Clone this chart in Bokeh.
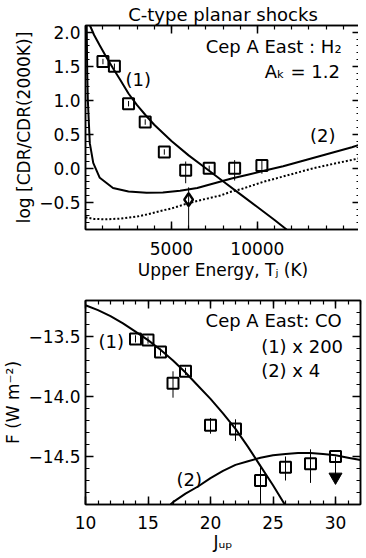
from bokeh.plotting import figure
from bokeh.models import Range1d, LinearAxis, FixedTicker, Label, CustomJSTickFormatter
from bokeh.layouts import column
from bokeh.embed import file_html
from bokeh.resources import INLINE

FONT = "DejaVu Sans"
FS = "17px"
FS_TXT = "18px"

# ---------------- top panel: H2 ----------------
h2_eup = [1015, 1682, 2504, 3474, 4586, 5829, 7197, 8677, 10263]
h2_logcdr = [1.57, 1.50, 0.95, 0.68, 0.24, -0.03, 0.00, 0.00, 0.04]
h2_err_lo = [1.53, 1.46, 0.91, 0.64, 0.20, -0.22, -0.04, -0.18, -0.08]
h2_err_hi = [1.61, 1.54, 0.99, 0.72, 0.28, 0.10, 0.04, 0.12, 0.12]

v1_eup = [6000]
v1_logcdr = [-0.46]
v1_err_lo = [-1.2]
v1_err_hi = [-0.28]

model1_eup = [260, 500, 800, 1200, 1600, 2000, 2500, 3000, 3500, 4000, 5000, 6000,
              7000, 8000, 9000, 10000, 11000, 11700]
model1_logcdr = [2.10, 1.96, 1.82, 1.64, 1.47, 1.31, 1.10, 0.93, 0.78, 0.64, 0.40, 0.19,
                 0.00, -0.19, -0.38, -0.57, -0.76, -0.90]

model2_eup = [70, 100, 136, 250, 450, 830, 1600, 2500, 3550, 4500, 5500, 6500, 7500,
              8500, 9500, 10500, 11500, 12500, 13500, 14500, 15500, 16000]
model2_logcdr = [2.10, 1.40, 1.00, 0.37, 0.08, -0.14, -0.29, -0.34, -0.36, -0.355, -0.33,
                 -0.29, -0.22, -0.15, -0.09, -0.03, 0.03, 0.10, 0.17, 0.24, 0.31, 0.35]

model2b_eup = [0, 500, 1200, 2000, 3000, 3550, 4500, 5000, 6030, 7000, 7854, 8400, 9000,
               10340, 11500, 13250, 14500, 16000]
model2b_logcdr = [-0.72, -0.745, -0.75, -0.74, -0.71, -0.68, -0.62, -0.59, -0.51, -0.45,
                  -0.40, -0.35, -0.31, -0.20, -0.12, 0.00, 0.07, 0.15]

# ---------------- bottom panel: CO ----------------
co_jup = [14, 15, 16, 17, 18, 20, 22, 24, 26, 28]
co_logf = [-13.52, -13.53, -13.63, -13.89, -13.79, -14.24, -14.27, -14.70, -14.59, -14.56]
co_err_lo = [-13.55, -13.56, -13.66, -14.01, -13.82, -14.31, -14.37, -14.88, -14.70, -14.72]
co_err_hi = [-13.49, -13.50, -13.60, -13.79, -13.76, -14.18, -14.19, -14.57, -14.50, -14.44]

co_lim_jup = [30]
co_lim_logf = [-14.50]
co_lim_arrow = [-14.67]

co_model1_jup = [10, 11, 12, 13, 14, 15, 16, 17, 18, 19, 20, 21, 22, 23, 24, 25, 26]
co_model1_logf = [-13.24, -13.28, -13.33, -13.39, -13.46, -13.53, -13.61, -13.70, -13.80,
                  -13.91, -14.02, -14.14, -14.27, -14.42, -14.58, -14.74, -14.91]

co_model2_jup = [16.8, 17, 18, 19, 20, 21, 22, 23, 24, 25, 26, 27, 28, 29, 30, 31, 32]
co_model2_logf = [-14.90, -14.88, -14.81, -14.75, -14.68, -14.62, -14.57, -14.54, -14.51,
                  -14.49, -14.48, -14.47, -14.47, -14.48, -14.49, -14.51, -14.53]

top_xticks = [5000, 10000]
top_yticks = [-0.5, 0.0, 0.5, 1.0, 1.5, 2.0]
bot_xticks = [10, 15, 20, 25, 30]
bot_yticks = [-14.5, -14.0, -13.5]


def style_axis(ax, labels=True, fmt=1):
    ax.axis_line_color = "black"
    ax.axis_line_width = 1.5
    ax.major_tick_in = 8
    ax.major_tick_out = 0
    ax.minor_tick_in = 4
    ax.minor_tick_out = 0
    ax.major_tick_line_width = 1.5
    ax.minor_tick_line_width = 1.2
    ax.major_tick_line_color = "black"
    ax.minor_tick_line_color = "black"
    ax.major_label_text_font = FONT
    ax.major_label_text_font_size = FS
    ax.major_label_text_color = "black"
    ax.axis_label_text_font = FONT
    ax.axis_label_text_font_size = FS
    ax.axis_label_text_font_style = "normal"
    ax.axis_label_text_color = "black"
    if labels:
        ax.formatter = CustomJSTickFormatter(
            code="return tick.toFixed(%d).replace('-', '\u2212');" % fmt)
    else:
        ax.formatter = CustomJSTickFormatter(code="return '';")
        ax.major_label_standoff = 0


def make_fig(xr, yr, xt, xminor, yt, yminor, xfmt, yfmt, **kw):
    p = figure(frame_width=275, frame_height=204, x_range=Range1d(*xr), y_range=Range1d(*yr),
               output_backend="svg", toolbar_location=None, **kw)
    p.xgrid.visible = False
    p.ygrid.visible = False
    p.outline_line_color = "black"
    p.outline_line_width = 1.5
    p.background_fill_color = "white"
    p.border_fill_color = "white"
    bottom = p.below[0]
    left = p.left[0]
    bottom.ticker = FixedTicker(ticks=xt, minor_ticks=xminor)
    left.ticker = FixedTicker(ticks=yt, minor_ticks=yminor)
    style_axis(bottom, True, xfmt)
    style_axis(left, True, yfmt)
    top = LinearAxis(ticker=FixedTicker(ticks=xt, minor_ticks=xminor))
    right = LinearAxis(ticker=FixedTicker(ticks=yt, minor_ticks=yminor))
    style_axis(top, False, xfmt)
    style_axis(right, False, yfmt)
    p.add_layout(top, "above")
    p.add_layout(right, "right")
    return p, bottom, left


def lbl(p, x, y, text, align="left"):
    p.add_layout(Label(x=x, y=y, text=text, text_align=align, text_baseline="middle",
                       text_font=FONT, text_font_size=FS_TXT, text_color="black"))


# ---------- top figure ----------
p1, p1_bottom, p1_left = make_fig(
    (0, 16000), (-0.9, 2.1), top_xticks, [i * 1000 for i in range(17)],
    top_yticks, [round(-0.9 + 0.1 * i, 1) for i in range(31)], 0, 1,
    min_border_left=81, min_border_right=2, min_border_top=18, min_border_bottom=58)
p1.title.text = "C-type planar shocks"
p1.title.align = "center"
p1.title.text_font = FONT
p1.title.text_font_size = FS_TXT
p1.title.text_font_style = "normal"
p1.title.text_color = "black"
p1.title.standoff = 2
p1_bottom.axis_label = "Upper Energy, T\u2c7c (K)"
p1_left.axis_label = "log [CDR/CDR(2000K)]"
p1_bottom.major_label_standoff = 12
p1_bottom.axis_label_standoff = 2
p1_left.major_label_standoff = 5
p1_left.axis_label_standoff = 2

p1.line(model1_eup, model1_logcdr, line_color="black", line_width=2)
p1.line(model2_eup, model2_logcdr, line_color="black", line_width=2)
p1.line(model2b_eup, model2b_logcdr, line_color="black", line_width=2, line_dash="2 2")
p1.segment(h2_eup, h2_err_lo, h2_eup, h2_err_hi, line_color="black", line_width=1)
p1.segment(v1_eup, v1_err_lo, v1_eup, v1_err_hi, line_color="black", line_width=1)
p1.scatter(h2_eup, h2_logcdr, marker="square", size=11, fill_color=None,
           line_color="black", line_width=2)
p1.scatter(v1_eup, v1_logcdr, marker="diamond", size=13, fill_color=None,
           line_color="black", line_width=2.5)

lbl(p1, 14900, 1.79, "Cep A East : H\u2082", "right")
lbl(p1, 14800, 1.42, "A\u2096 = 1.2", "right")
lbl(p1, 3070, 1.30, "(1)", "center")
lbl(p1, 13800, 0.48, "(2)", "center")

# ---------- bottom figure ----------
p2, p2_bottom, p2_left = make_fig(
    (10, 32), (-14.9, -13.2), bot_xticks, list(range(10, 33)),
    bot_yticks, [round(-14.9 + 0.1 * i, 1) for i in range(18)], 0, 1,
    min_border_left=81, min_border_right=2, min_border_top=13, min_border_bottom=45)
p2_bottom.axis_label = "J\u1d64\u209a"
p2_left.axis_label = "F (W m\u207b\u00b2)"
p2_bottom.major_label_standoff = 11
p2_bottom.axis_label_standoff = 0
p2_left.major_label_standoff = 5
p2_left.axis_label_standoff = 2

p2.line(co_model1_jup, co_model1_logf, line_color="black", line_width=2)
p2.line(co_model2_jup, co_model2_logf, line_color="black", line_width=2)
p2.segment(co_jup, co_err_lo, co_jup, co_err_hi, line_color="black", line_width=1)
p2.segment(co_lim_jup, co_lim_logf, co_lim_jup, co_lim_arrow, line_color="black", line_width=1)
p2.scatter(co_jup, co_logf, marker="square", size=11, fill_color=None,
           line_color="black", line_width=2)
p2.scatter(co_lim_jup, co_lim_logf, marker="square", size=11, fill_color=None,
           line_color="black", line_width=2)
p2.scatter(co_lim_jup, co_lim_arrow, marker="inverted_triangle", size=13,
           fill_color="black", line_color="black")

lbl(p2, 30.5, -13.37, "Cep A East: CO", "right")
lbl(p2, 24.05, -13.58, "(1) x 200", "left")
lbl(p2, 24.05, -13.78, "(2) x 4", "left")
lbl(p2, 12.06, -13.54, "(1)", "center")
lbl(p2, 18.3, -14.69, "(2)", "center")

layout = column(p1, p2)
open("out.html", "w").write(file_html(layout, INLINE))
